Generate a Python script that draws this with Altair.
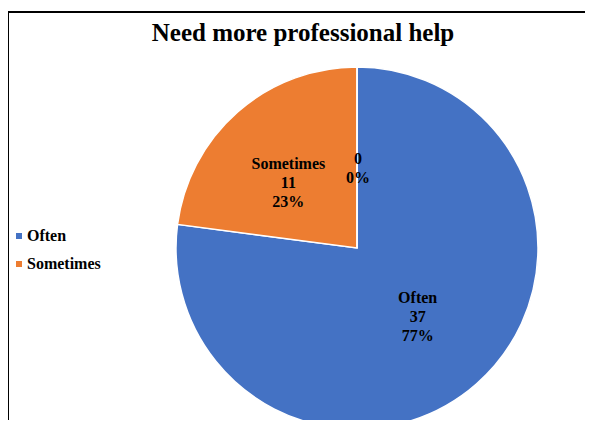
import altair as alt
import pandas as pd

categories = ["Often", "Sometimes", ""]
counts = [37, 11, 0]
percents = ["77%", "23%", "0%"]
legend_categories = ["Often", "Sometimes"]
colors = ["#4472C4", "#ED7D31"]
title_text = "Need more professional help"

labels = []
for c, n, p in zip(categories, counts, percents):
    parts = ([c] if c else []) + [str(n), p]
    labels.append("\n".join(parts))

df = pd.DataFrame({
    "category": categories,
    "count": counts,
    "label": labels,
    "idx": list(range(len(categories))),
})

W, H = 577, 408
CX, CY = 349, 236
R = 181

base = alt.Chart(df)

pie = base.mark_arc(stroke="white", strokeWidth=1.5, outerRadius=R).encode(
    theta=alt.Theta("count:Q", stack=True),
    order=alt.Order("idx:Q"),
    color=alt.Color(
        "category:N",
        scale=alt.Scale(domain=legend_categories, range=colors),
        legend=alt.Legend(
            title=None,
            orient="none",
            legendX=3,
            legendY=216,
            symbolType="square",
            symbolSize=36,
            symbolStrokeWidth=0,
            labelFont="Liberation Serif",
            labelFontWeight="bold",
            labelFontSize=16,
            labelColor="#000000",
            labelOffset=0,
            rowPadding=12,
            padding=0,
        ),
    ),
    x=alt.value(CX),
    y=alt.value(CY),
)

# per-label placement style: (index, radius, dx, dy)
label_style = [(0, 92, 0, -19), (1, 95, -6, -13), (2, 80, 1, -9.5)]
text_layers = []
for i, rad, dx, dy in label_style:
    text_layers.append(
        base.transform_calculate(
            shown=f"datum.idx == {i} ? datum.label : ''"
        ).mark_text(
            radius=rad,
            dx=dx,
            dy=dy,
            font="Liberation Serif",
            fontWeight="bold",
            fontSize=16,
            color="#000000",
            lineBreak="\n",
            lineHeight=19,
            align="center",
            baseline="middle",
        ).encode(
            theta=alt.Theta("count:Q", stack=True),
            order=alt.Order("idx:Q"),
            text="shown:N",
            x=alt.value(CX),
            y=alt.value(CY),
        )
    )

title_df = pd.DataFrame({"t": [title_text]})
title = alt.Chart(title_df).mark_text(
    font="Liberation Serif",
    fontWeight="bold",
    fontSize=25,
    color="#000000",
    align="center",
    baseline="alphabetic",
).encode(text="t:N", x=alt.value(295), y=alt.value(29))

left_border = alt.Chart(title_df).mark_rect(color="black").encode(
    x=alt.value(-1), x2=alt.value(1), y=alt.value(-1), y2=alt.value(H + 10)
)
top_border = alt.Chart(title_df).mark_rect(color="black").encode(
    x=alt.value(-1), x2=alt.value(W + 10), y=alt.value(-1), y2=alt.value(1)
)

chart = alt.layer(pie, *text_layers, title, left_border, top_border).properties(
    width=W,
    height=H,
    padding={"left": 0, "top": 4, "right": 0, "bottom": 0},
    autosize=alt.AutoSizeParams(type="none"),
).configure_view(stroke=None)

chart.save("out.html", embed_options={"renderer": "svg", "actions": False})
